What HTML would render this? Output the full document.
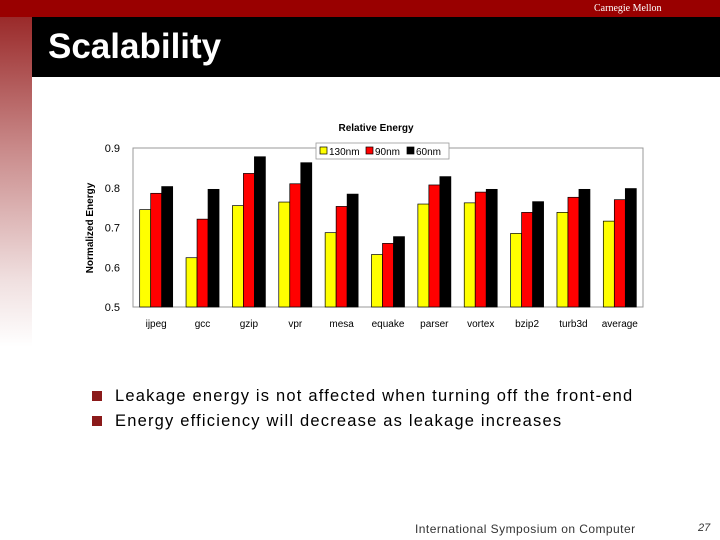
<!DOCTYPE html>
<html><head><meta charset="utf-8"><style>
body{margin:0;width:720px;height:540px;overflow:hidden;background:#fff;font-family:"Liberation Sans",sans-serif;position:relative}
</style></head><body>
<div style="position:absolute;left:0;top:0;width:720px;height:17px;background:#990000"></div>
<div style="position:absolute;left:594px;top:3px;font-family:'Liberation Serif',serif;font-size:10px;color:#fff">Carnegie Mellon</div>
<div style="position:absolute;left:0;top:17px;width:32px;height:330px;background:linear-gradient(to bottom,#9a2a2a,#c98a8a 40%,#f0e0e0 80%,#fff)"></div>
<div style="position:absolute;left:32px;top:17px;width:688px;height:60px;background:#000"></div>
<div style="position:absolute;left:48px;top:27px;font-size:35px;font-weight:bold;color:#fff">Scalability</div>
<svg width="720" height="540" style="position:absolute;left:0;top:0" id="c"></svg>
<div style="position:absolute;left:92px;top:387px;font-size:16.5px;letter-spacing:1.2px;color:#000"><span style="display:inline-block;width:10px;height:10px;background:#8b1a1a;margin-right:13px"></span>Leakage energy is not affected when turning off the front-end</div>
<div style="position:absolute;left:92px;top:412px;font-size:16.5px;letter-spacing:1.2px;color:#000"><span style="display:inline-block;width:10px;height:10px;background:#8b1a1a;margin-right:13px"></span>Energy efficiency will decrease as leakage increases</div>
<div style="position:absolute;left:415px;top:522px;font-size:12px;letter-spacing:0.45px;color:#333">International Symposium on Computer</div>
<div style="position:absolute;left:698px;top:522px;font-size:11px;font-style:italic;color:#333">27</div>
<script>
const categories=["ijpeg","gcc","gzip","vpr","mesa","equake","parser","vortex","bzip2","turb3d","average"];
const s130=[0.745,0.624,0.755,0.764,0.687,0.632,0.759,0.762,0.685,0.738,0.716];
const s90=[0.786,0.721,0.836,0.810,0.753,0.660,0.807,0.789,0.738,0.776,0.770];
const s60=[0.803,0.796,0.878,0.863,0.784,0.677,0.828,0.796,0.765,0.796,0.798];
const seriesNames=["130nm","90nm","60nm"];
const yTicks=[0.5,0.6,0.7,0.8,0.9];
const svg=document.getElementById('c');const NS="http://www.w3.org/2000/svg";
const L=133,R=643,T=148,B=307,ymin=0.5,ymax=0.9;
const y=v=>B-(v-ymin)/(ymax-ymin)*(B-T);
const cw=(R-L)/categories.length;
function el(t,a,txt){const e=document.createElementNS(NS,t);for(const k in a)e.setAttribute(k,a[k]);if(txt!==undefined)e.textContent=txt;svg.appendChild(e);return e;}
let e=el('rect',{x:L,y:T,width:R-L,height:B-T,fill:'#fff',stroke:'#999','stroke-width':1});

e=el('text',{x:376,y:131,'text-anchor':'middle','font-size':10,'font-weight':'bold'},'Relative Energy');

yTicks.forEach(t=>{const e=el('text',{x:120,y:y(t)+4,'text-anchor':'end','font-size':11},t.toFixed(1));
});
e=el('text',{x:0,y:0,transform:'translate(93,228) rotate(-90)','text-anchor':'middle','font-size':10,'font-weight':'bold'},'Normalized Energy');

const series=[s130,s90,s60],cols=['#ffff00','#ff0000','#000000'],bw=11;
categories.forEach((c,i)=>{const cx=L+cw*(i+0.5);
series.forEach((s,j)=>{const b=el('rect',{x:cx-1.5*bw+j*bw,y:y(s[i]),width:bw,height:B-y(s[i]),fill:cols[j],stroke:'#000','stroke-width':0.7});
});
const t=el('text',{x:cx,y:327,'text-anchor':'middle','font-size':10},c);
});
e=el('rect',{x:316,y:143,width:133,height:16,fill:'#fff',stroke:'#999','stroke-width':0.8});

const lx=[320,366,407];
seriesNames.forEach((n,j)=>{let r=el('rect',{x:lx[j],y:147,width:7,height:7,fill:cols[j],stroke:'#000','stroke-width':0.7});

let t=el('text',{x:lx[j]+9,y:155,'font-size':10},n);
});
</script>
</body></html>
